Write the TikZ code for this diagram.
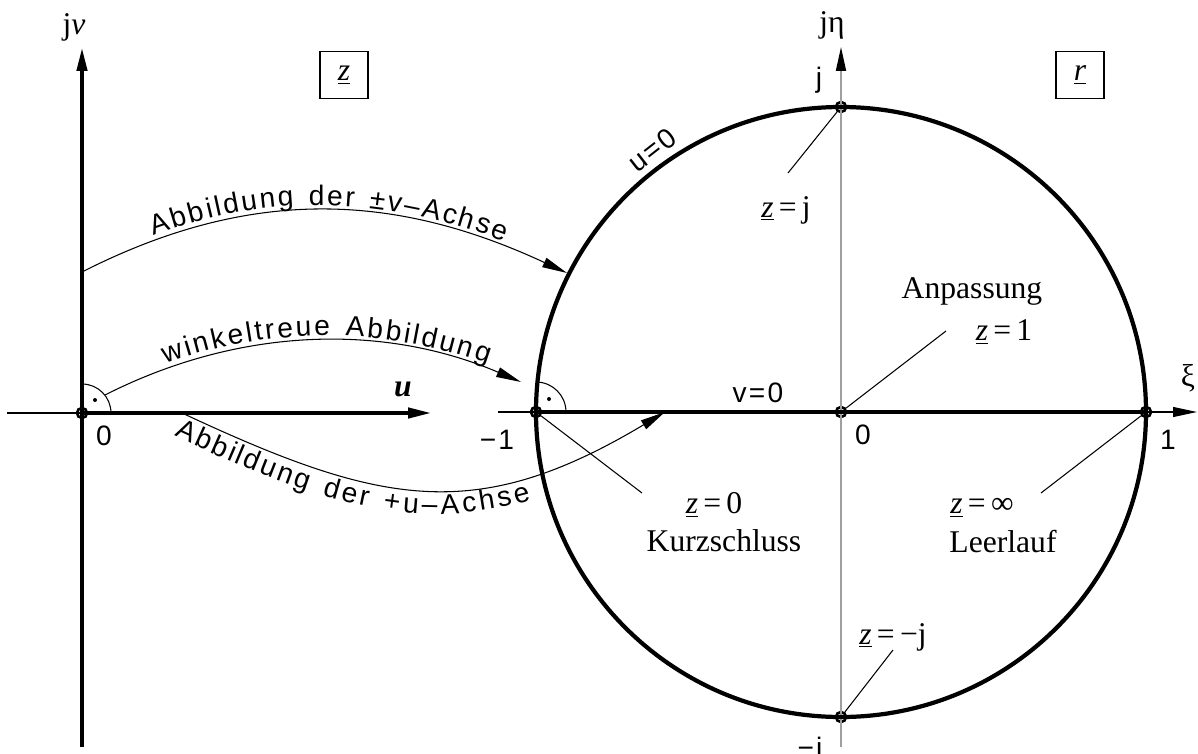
\documentclass[tikz,border=0pt]{standalone}
\usepackage{fontspec}
\setmainfont{Liberation Serif}
\newfontfamily\isofont[LetterSpace=8]{Liberation Sans}
\usetikzlibrary{arrows.meta,decorations.text,positioning}

\begin{document}
\begin{tikzpicture}[
    x=0.02cm, y=-0.02cm,
    thickaxis/.style={line width=2.4pt},
    thinline/.style={line width=0.6pt},
    grayaxis/.style={line width=1pt, draw=gray!75},
    axisarrow/.style={-{Triangle[length=4.8mm, width=2mm, color=black]}},
    mapping/.style={thinline, -{Triangle[length=5mm, width=2mm]}},
    marker/.style={circle, draw, line width=1.5pt, minimum size=0.2cm, inner sep=0pt},
    isolabel/.style={font=\isofont\fontsize{16}{18}\selectfont, inner sep=1pt},
    serlabel/.style={font=\fontsize{18}{20}\selectfont, inner sep=1pt},
    planebox/.style={draw, line width=0.6pt, minimum width=0.96cm, minimum height=0.94cm}
]
\useasboundingbox (0,0) rectangle (1198,754);

% Left plane (z)
\node[marker] (O) at (82,413) {};
\coordinate (vbot) at (82,747);
\coordinate (vtop) at (82,47);
\coordinate (uleft) at (7,413);
\coordinate (utip) at (432,413);
\draw[thickaxis, axisarrow] (vbot) -- (vtop);
\draw[thinline] (uleft) -- (O.center);
\draw[thickaxis, axisarrow] (O.center) -- (utip);
\node[serlabel] (jvlabel) at (74,27) {j\textit{v}};
\node[serlabel] (ulabel) at (403,389) {\bfseries\itshape u};
\node[isolabel] (zeroleft) at (104,436) {0};
\node[planebox, serlabel] (zbox) at (344,75) {\underline{\textit{z}}};
\draw[thinline] (O.center) ++(29,0) arc[start angle=0, end angle=-90, radius=29];
\fill (95,400) circle (2);

% Right plane (r)
\node[marker] (C) at (841,412) {};
\node[marker] (M1) at (536,412) {};
\node[marker] (P1) at (1146,412) {};
\node[marker] (Pj) at (841,107) {};
\node[marker] (Pmj) at (841,717) {};
\coordinate (etabot) at (841,747);
\coordinate (etatop) at (841,47);
\coordinate (xileft) at (498,412);
\coordinate (xitip) at (1197,412);
\draw[grayaxis, axisarrow] (etabot) -- (etatop);
\draw[line width=2.4pt] (C.center) circle[radius=305];
\draw[thinline] (xileft) -- (M1.center);
\draw[thickaxis] (M1.center) -- (P1.center);
\draw[thinline, axisarrow] (P1.center) -- (xitip);
\draw[thinline] (M1.center) ++(30,0) arc[start angle=0, end angle=-90, radius=30];
\fill (549,399) circle (2);

\node[serlabel] (etalabel) at (832,25) {jη};
\node[serlabel] (xilabel) at (1188,378) {ξ};
\node[planebox, serlabel] (rbox) at (1080,75) {\underline{\textit{r}}};
\node[isolabel] (jlabel) at (819,80) {j};
\node[isolabel] (mjlabel) at (810,750) {−j};
\node[isolabel] (zeroright) at (863,435) {0};
\node[isolabel] (onelabel) at (1168,440) {1};
\node[isolabel] (mone) at (497,440) {−1};
\node[isolabel] (vzero) at (758,393) {v=0};
\node[isolabel, rotate=38] (uzero) at (652,150) {u=0};

% Special points
\node[serlabel] (zj) at (786,210) {\underline{\textit{z}}\,=\,j};
\node[serlabel] (anp) at (972,291) {Anpassung};
\node[serlabel] (zone) at (1004,332) {\underline{\textit{z}}\,=\,1};
\node[serlabel] (zinf) at (982,508) {\underline{\textit{z}}\,=\,∞};
\node[serlabel] (leer) at (1003,542) {Leerlauf};
\node[serlabel] (zzero) at (714,505) {\underline{\textit{z}}\,=\,0};
\node[serlabel] (kurz) at (724,541) {Kurzschluss};
\node[serlabel] (zmj) at (893,637) {\underline{\textit{z}}\,=\,−j};
\coordinate (zjend) at (788,173);
\coordinate (zoneend) at (946,331);
\coordinate (zinfend) at (1041,493);
\coordinate (zzeroend) at (642,493);
\coordinate (zmjend) at (893,650);
\draw[thinline] (Pj) -- (zjend);
\draw[thinline] (C) -- (zoneend);
\draw[thinline] (P1) -- (zinfend);
\draw[thinline] (M1) -- (zzeroend);
\draw[thinline] (Pmj) -- (zmjend);

% Mappings
\coordinate (vstart) at (82,272);
\coordinate (vend) at (567,273);
\coordinate (wstart) at (105,395);
\coordinate (wend) at (521,382);
\coordinate (ustart) at (182,413);
\coordinate (uend) at (665,412);
\draw[mapping, postaction={decorate, decoration={text along path, raise=0.1cm,
    text align={fit to path, left indent=1.6cm, right indent=1.4cm},
    text={|\isofont\fontsize{16}{18}\selectfont|Abbildung der ±v–Achse}}}]
  (vstart) .. controls (251,186) and (395,193) .. (vend);
\draw[mapping, postaction={decorate, decoration={text along path, raise=0.1cm,
    text align={fit to path, left indent=1.35cm, right indent=0.75cm},
    text={|\isofont\fontsize{16}{18}\selectfont|winkeltreue Abbildung}}}]
  (wstart) .. controls (239,327) and (383,323) .. (wend);
\draw[mapping, postaction={decorate, decoration={text along path, raise=-0.48cm,
    text align={fit to path, left indent=0.05cm, right indent=3.1cm},
    text={|\isofont\fontsize{16}{18}\selectfont|Abbildung der +u–Achse}}}]
  (ustart) .. controls (381,506) and (476,525) .. (uend);

\end{tikzpicture}
\end{document}
